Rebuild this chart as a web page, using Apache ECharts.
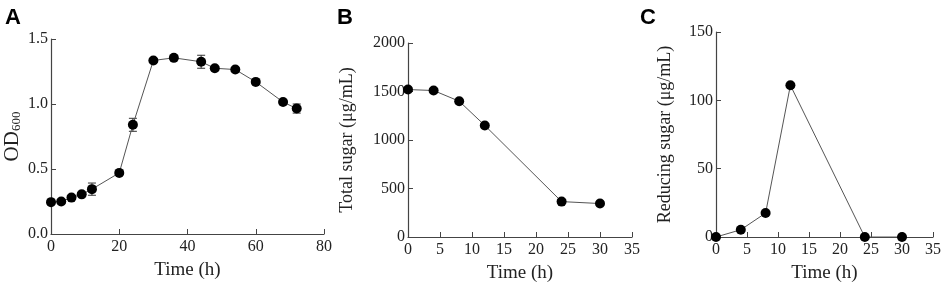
<!DOCTYPE html>
<html>
<head>
<meta charset="utf-8">
<script src="https://cdn.jsdelivr.net/npm/echarts@6/dist/echarts.min.js"></script>
<style>
  html, body { margin: 0; padding: 0; background: #fff; }
  #chart-panel { width: 941px; height: 289px; }
</style>
</head>
<body>
<div id="chart-panel"></div>
<script>
// panel A: growth (OD600)
var timeA = [0, 3, 6, 9, 12, 20, 24, 30, 36, 44, 48, 54, 60, 68, 72];
var odA = [0.245, 0.25, 0.28, 0.305, 0.345, 0.47, 0.84, 1.335, 1.355, 1.325, 1.275, 1.265, 1.17, 1.015, 0.965];
var errA = [0.01, 0.01, 0.01, 0.01, 0.047, 0.01, 0.05, 0.01, 0.01, 0.05, 0.01, 0.01, 0.01, 0.01, 0.035];
// panel B: total sugar
var timeB = [0, 4, 8, 12, 24, 30];
var totalSugar = [1520, 1510, 1400, 1150, 365, 345];
// panel C: reducing sugar
var timeC = [0, 4, 8, 12, 24, 30];
var reducingSugar = [0, 5.3, 17.5, 111, 0, 0];

var serif = '"Liberation Serif", "Times New Roman", serif';
var axisColor = '#444';

function pairs(xs, ys) {
    return xs.map(function (x, i) { return [x, ys[i]]; });
}

function xAxisOf(idx, max, interval) {
    return {
        type: 'value', gridIndex: idx, min: 0, max: max, interval: interval,
        name: 'Time (h)', nameLocation: 'middle', nameGap: 27,
        nameTextStyle: { fontFamily: serif, fontSize: 19, color: '#222' },
        axisLine: { show: true, lineStyle: { color: axisColor, width: 1.2 } },
        axisTick: { show: true, inside: true, length: 5, lineStyle: { color: axisColor } },
        axisLabel: { fontFamily: serif, fontSize: 16, color: '#222', margin: 5 },
        splitLine: { show: false }
    };
}

function yAxisOf(idx, max, interval, name, gap, fmt) {
    return {
        type: 'value', gridIndex: idx, min: 0, max: max, interval: interval,
        name: name, nameLocation: 'middle', nameGap: gap,
        nameTextStyle: {
            fontFamily: serif, fontSize: 18, color: '#222',
            rich: {
                a: { fontFamily: serif, fontSize: 21, color: '#222' },
                b: { fontFamily: serif, fontSize: 13, color: '#222', padding: [9, 0, 0, 0] }
            }
        },
        axisLine: { show: true, lineStyle: { color: axisColor, width: 1.2 } },
        axisTick: { show: true, inside: true, length: 5, lineStyle: { color: axisColor } },
        axisLabel: { fontFamily: serif, fontSize: 16, color: '#222', margin: 3, formatter: fmt || function (v) { return String(v); } },
        splitLine: { show: false }
    };
}

function lineOf(idx, data) {
    return {
        type: 'line', xAxisIndex: idx, yAxisIndex: idx, data: data,
        symbol: 'circle', symbolSize: 10,
        itemStyle: { color: '#000' },
        lineStyle: { color: '#555', width: 1 },
        z: 3
    };
}

var errData = timeA.map(function (t, i) { return [t, odA[i] - errA[i], odA[i] + errA[i]]; });

option = {
    animation: false,
    backgroundColor: '#fff',
    title: [
        { text: 'A', left: 0, top: 2, textStyle: { fontFamily: 'Liberation Sans', fontWeight: 'bold', fontSize: 22, color: '#000' } },
        { text: 'B', left: 332, top: 2, textStyle: { fontFamily: 'Liberation Sans', fontWeight: 'bold', fontSize: 22, color: '#000' } },
        { text: 'C', left: 635, top: 2, textStyle: { fontFamily: 'Liberation Sans', fontWeight: 'bold', fontSize: 22, color: '#000' } }
    ],
    grid: [
        { left: 51, width: 273, top: 39, height: 195, outerBoundsMode: 'none' },
        { left: 408, width: 224, top: 43, height: 194, outerBoundsMode: 'none' },
        { left: 716, width: 217, top: 32, height: 205, outerBoundsMode: 'none' }
    ],
    xAxis: [
        xAxisOf(0, 80, 20),
        xAxisOf(1, 35, 5),
        xAxisOf(2, 35, 5)
    ],
    yAxis: [
        yAxisOf(0, 1.5, 0.5, '{a|OD}{b|600}', 28, function (v) { return v.toFixed(1); }),
        yAxisOf(1, 2000, 500, 'Total sugar (μg/mL)', 52),
        yAxisOf(2, 150, 50, 'Reducing sugar (μg/mL)', 42)
    ],
    series: [
        lineOf(0, pairs(timeA, odA)),
        {
            type: 'custom', xAxisIndex: 0, yAxisIndex: 0, data: errData, z: 2,
            renderItem: function (params, api) {
                var lo = api.coord([api.value(0), api.value(1)]);
                var hi = api.coord([api.value(0), api.value(2)]);
                var w = 4;
                var st = { stroke: '#333', lineWidth: 1 };
                return {
                    type: 'group',
                    children: [
                        { type: 'line', shape: { x1: lo[0], y1: lo[1], x2: hi[0], y2: hi[1] }, style: st },
                        { type: 'line', shape: { x1: lo[0] - w, y1: lo[1], x2: lo[0] + w, y2: lo[1] }, style: st },
                        { type: 'line', shape: { x1: hi[0] - w, y1: hi[1], x2: hi[0] + w, y2: hi[1] }, style: st }
                    ]
                };
            }
        },
        lineOf(1, pairs(timeB, totalSugar)),
        lineOf(2, pairs(timeC, reducingSugar))
    ]
};

var chart = echarts.init(document.getElementById('chart-panel'));
chart.setOption(option);
</script>
</body>
</html>
